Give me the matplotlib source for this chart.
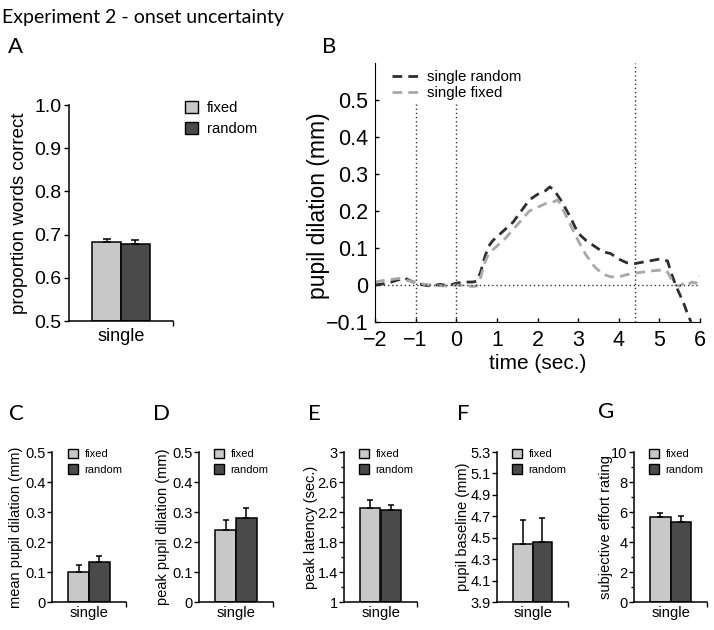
import numpy as np
import matplotlib
matplotlib.use('Agg')
import matplotlib.pyplot as plt
from matplotlib.patches import Patch

plt.rcParams['font.family'] = ['Liberation Sans', 'DejaVu Sans']

# ---- data ----
conditions = ['fixed', 'random']
category = 'single'

# panel A
acc_mean = [0.682, 0.678]
acc_err = [0.007, 0.009]
acc_ticks = [0.5, 0.6, 0.7, 0.8, 0.9, 1.0]
acc_ticklabels = ['0.5', '0.6', '0.7', '0.8', '0.9', '1.0']

# panel B: pupil traces
t_random = [-2.0, -1.8, -1.6, -1.4, -1.3, -1.2, -1.0, -0.8, -0.6, -0.4, -0.2, 0.0, 0.2, 0.4, 0.5,
            0.6, 0.7, 0.8, 0.9, 1.0, 1.2, 1.4, 1.6, 1.8, 2.0, 2.2, 2.3, 2.4, 2.6, 2.8, 3.0, 3.2,
            3.4, 3.6, 3.8, 4.0, 4.2, 4.4, 4.6, 4.8, 5.0, 5.1, 5.2, 5.3, 5.4, 5.5, 5.6, 5.7, 5.78]
y_random = [0.0, 0.003, 0.008, 0.015, 0.02, 0.015, 0.005, 0.0, -0.003, 0.002, -0.002, 0.005, 0.008,
            0.008, 0.01, 0.035, 0.075, 0.105, 0.12, 0.13, 0.15, 0.17, 0.2, 0.23, 0.245, 0.255, 0.265,
            0.258, 0.225, 0.185, 0.14, 0.12, 0.105, 0.09, 0.085, 0.07, 0.06, 0.058, 0.062, 0.066,
            0.07, 0.068, 0.065, 0.03, 0.0, -0.025, -0.05, -0.08, -0.1]
t_fixed = [-2.0, -1.8, -1.6, -1.4, -1.2, -1.0, -0.8, -0.6, -0.4, -0.2, 0.0, 0.2, 0.4, 0.5, 0.6,
           0.7, 0.8, 1.0, 1.2, 1.4, 1.6, 1.8, 2.0, 2.2, 2.4, 2.5, 2.6, 2.8, 3.0, 3.2, 3.4, 3.6,
           3.8, 4.0, 4.2, 4.4, 4.6, 4.8, 5.0, 5.1, 5.2, 5.3, 5.4, 5.5, 5.6, 5.7, 5.8, 5.9, 6.0]
y_fixed = [0.008, 0.012, 0.015, 0.018, 0.012, 0.008, 0.002, 0.0, -0.002, -0.003, 0.0, -0.002,
           -0.004, -0.003, 0.02, 0.06, 0.085, 0.105, 0.125, 0.15, 0.175, 0.2, 0.21, 0.22, 0.225,
           0.23, 0.21, 0.165, 0.12, 0.08, 0.05, 0.03, 0.022, 0.022, 0.028, 0.032, 0.035, 0.038,
           0.04, 0.042, 0.035, 0.015, 0.0, -0.003, 0.005, 0.0, 0.008, 0.005, 0.025]
event_times = [-1, 0, 4.4]
event_tops = [0.49, 0.49, 0.6]
b_xticks = [-2, -1, 0, 1, 2, 3, 4, 5, 6]
b_yticks = [-0.1, 0, 0.1, 0.2, 0.3, 0.4, 0.5]
b_yticklabels = ['\u22120.1', '0', '0.1', '0.2', '0.3', '0.4', '0.5']

# panels C-G
c_mean, c_err = [0.10, 0.135], [0.025, 0.02]
d_mean, d_err = [0.24, 0.28], [0.035, 0.035]
e_mean, e_err = [2.26, 2.225], [0.105, 0.075]
f_mean, f_err = [4.44, 4.46], [0.23, 0.22]
g_mean, g_err = [5.65, 5.35], [0.3, 0.4]
c_ticks = [0, 0.1, 0.2, 0.3, 0.4, 0.5]
c_labels = ['0', '0.1', '0.2', '0.3', '0.4', '0.5']
e_ticks = [1, 1.4, 1.8, 2.2, 2.6, 3]
e_labels = ['1', '1.4', '1.8', '2.2', '2.6', '3']
f_ticks = [3.9, 4.1, 4.3, 4.5, 4.7, 4.9, 5.1, 5.3]
f_labels = ['3.9', '4.1', '4.3', '4.5', '4.7', '4.9', '5.1', '5.3']
g_ticks = [0, 2, 4, 6, 8, 10]
g_labels = ['0', '2', '4', '6', '8', '10']

bar_colors = ['#c8c8c8', '#4a4a4a']

W, H = 714, 630
fig = plt.figure(figsize=(W / 100, H / 100), dpi=100)


def box(l, t, r, b):
    return [l / W, 1 - b / H, (r - l) / W, (b - t) / H]


def fig_pt(x, y):
    return (x / W, 1 - y / H)


def bar_panel(l, t, r, b, means, errs, ylim, ticks, labels, ylabel, label_x, leg_xy,
              fs_tick, fs_label, fs_leg, fs_cat, minor=None, cap=2.5, cat_pad=3):
    ax = fig.add_axes(box(l, t, r, b))
    ax.bar([0, 1], [m - ylim[0] for m in means], width=1, bottom=ylim[0],
           color=bar_colors, edgecolor='black', linewidth=1.1, zorder=2)
    ax.errorbar([0, 1], means, yerr=[[0, 0], errs], fmt='none', ecolor='black',
                elinewidth=1.1, capsize=cap, capthick=1.1, zorder=3)
    ax.set_xlim(-1.3, 2.3)
    ax.set_ylim(*ylim)
    for s in ['top', 'right']:
        ax.spines[s].set_visible(False)
    ax.spines['left'].set_linewidth(1.1)
    ax.spines['bottom'].set_linewidth(1.1)
    ax.set_yticks(ticks, labels, fontsize=fs_tick)
    if minor is not None:
        ax.set_yticks(minor, minor=True)
        ax.tick_params(axis='y', which='minor', length=2, width=1)
    ax.tick_params(axis='y', which='major', direction='out', length=3.5, width=1, pad=1)
    ax.set_xticks([0.5], [category], fontsize=fs_cat)
    ax.tick_params(axis='x', which='major', length=0, pad=cat_pad)
    ax.set_xticks([2.3], minor=True)
    ax.tick_params(axis='x', which='minor', length=3.5, width=1)
    ax.set_ylabel(ylabel, fontsize=fs_label)
    ax.yaxis.set_label_coords((label_x - l) / (r - l), 0.5)
    handles = [Patch(facecolor=c, edgecolor='black', linewidth=1) for c in bar_colors]
    ax.legend(handles, conditions, loc='upper left', bbox_to_anchor=fig_pt(*leg_xy),
              bbox_transform=fig.transFigure, frameon=False, fontsize=fs_leg,
              handlelength=0.9, handleheight=0.9, handletextpad=0.6, labelspacing=0.45,
              borderpad=0, borderaxespad=0)
    return ax


# title and panel letters
fig.text(2 / W, 1 - 17 / H, 'Experiment 2 - onset uncertainty', fontsize=14,
         family=['Lato', 'DejaVu Sans'], va='center', ha='left')
letters = [('A', 8, 47), ('B', 322, 47), ('C', 9, 414), ('D', 153, 414),
           ('E', 308, 414), ('F', 457, 414), ('G', 598, 412)]
for lab, x, y in letters:
    fig.text(x / W, 1 - y / H, lab, fontsize=16, family=['Lato', 'DejaVu Sans'],
             va='center', ha='left')

# panel A
axA = bar_panel(69, 105, 173, 321, acc_mean, acc_err, (0.5, 1.0), acc_ticks,
                acc_ticklabels, 'proportion words correct', 28, (185, 101),
                fs_tick=14, fs_label=13.5, fs_leg=10.6, fs_cat=13, cap=3, cat_pad=5)
axA.tick_params(axis='y', pad=2)

# panel B
axB = fig.add_axes(box(375, 63, 700, 322))
axB.plot(t_random, y_random, color='#2e2e2e', lw=2, dashes=(3.5, 2.2), label='single random')
axB.plot(t_fixed, y_fixed, color='#a8a8a8', lw=2, dashes=(3.5, 2.2), label='single fixed')
axB.axhline(0, color='#333333', lw=1, ls=(0, (1, 2)))
for tx, top in zip(event_times, event_tops):
    axB.plot([tx, tx], [-0.1, top], color='#333333', lw=1, ls=(0, (1, 2)))
axB.set_xlim(-2, 6)
axB.set_ylim(-0.1, 0.6)
for s in ['top', 'right']:
    axB.spines[s].set_visible(False)
axB.set_xticks(b_xticks, [str(v).replace('-', '\u2212') for v in b_xticks], fontsize=15.5)
axB.set_yticks(b_yticks, b_yticklabels, fontsize=15.5)
axB.tick_params(direction='in', length=3, width=1)
axB.tick_params(axis='y', pad=5)
axB.tick_params(axis='x', pad=6)
axB.set_xlabel('time (sec.)', fontsize=15, labelpad=2)
axB.set_ylabel('pupil dilation (mm)', fontsize=16.5)
axB.yaxis.set_label_coords((330 - 375) / 325, 0.45)
axB.legend(loc='upper left', bbox_to_anchor=fig_pt(392, 70), bbox_transform=fig.transFigure,
           frameon=False, fontsize=10.8, handlelength=1.9, handletextpad=0.4, labelspacing=0.15,
           borderpad=0, borderaxespad=0)

# panels C-G
fs = dict(fs_tick=10.5, fs_label=10.5, fs_leg=8, fs_cat=10.7)
bar_panel(52, 452, 126, 602, c_mean, c_err, (0, 0.5), c_ticks, c_labels,
          'mean pupil dilation (mm)', 23, (68, 449), **fs)
bar_panel(199, 452, 273, 602, d_mean, d_err, (0, 0.5), c_ticks, c_labels,
          'peak pupil dilation (mm)', 170, (214, 449), **fs)
bar_panel(344, 452, 417, 602, e_mean, e_err, (1, 3), e_ticks, e_labels,
          'peak latency (sec.)', 318, (359, 449), minor=np.arange(1.2, 3, 0.4), **fs)
bar_panel(497, 452, 568, 602, f_mean, f_err, (3.9, 5.3), f_ticks, f_labels,
          'pupil baseline (mm)', 470, (512, 449), **fs)
bar_panel(634, 452, 707, 602, g_mean, g_err, (0, 10), g_ticks, g_labels,
          'subjective effort rating', 613, (649, 449), minor=[1, 3, 5, 7, 9], **fs)

fig.savefig('out.png', dpi=100)
